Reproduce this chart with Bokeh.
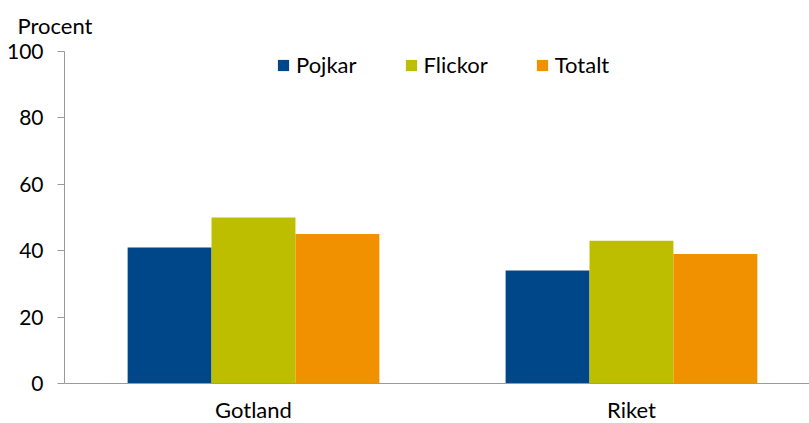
import numpy as np
from bokeh.plotting import figure
from bokeh.models import Range1d, Legend, LegendItem, Title, Span
from bokeh.core.properties import value
from bokeh.embed import file_html
from bokeh.resources import INLINE

categories = ["Gotland", "Riket"]
series_names = ["Pojkar", "Flickor", "Totalt"]
pojkar = [41, 34]
flickor = [50, 43]
totalt = [45, 39]
y_ticks = [0, 20, 40, 60, 80, 100]
colors = ["#00478A", "#BEBE00", "#F29100"]

FONT = "Lato"
AXIS_COLOR = "#9A9A9A"

p = figure(width=809, height=423, output_backend="svg", toolbar_location=None,
           x_range=Range1d(-0.5, 1.471), y_range=Range1d(-12.05, 100),
           x_axis_location=None,
           min_border_left=64, min_border_top=51, min_border_bottom=0,
           min_border_right=0, title=None)
p.outline_line_color = None
p.xgrid.visible = False
p.ygrid.visible = False
p.background_fill_color = "white"

bar_w = 0.222
offsets = [-bar_w, 0.0, bar_w]
xs = np.arange(len(categories))
renderers = []
for vals, off, col in zip([pojkar, flickor, totalt], offsets, colors):
    r = p.vbar(x=xs + off, top=vals, width=bar_w, bottom=0,
               fill_color=col, line_color=None)
    renderers.append(r)

# category axis line and labels
p.add_layout(Span(location=0, dimension="width", line_color=AXIS_COLOR,
                  line_width=1))
p.text(x=xs, y=[-7.8] * len(categories), text=categories,
       text_font=value(FONT), text_font_size="22px", text_color="black",
       text_align="center", text_baseline="middle")

# y axis
p.yaxis.ticker = y_ticks
p.yaxis.bounds = (0, 100)
p.yaxis.axis_line_color = AXIS_COLOR
p.yaxis.major_tick_line_color = AXIS_COLOR
p.yaxis.major_tick_out = 7
p.yaxis.major_tick_in = 0
p.yaxis.minor_tick_line_color = None
p.yaxis.major_label_standoff = 14
p.yaxis.major_label_text_font = FONT
p.yaxis.major_label_text_font_size = "21px"
p.yaxis.major_label_text_color = "black"

# "Procent" title
p.add_layout(Title(text="Procent", align="left", offset=-47, standoff=22,
                   vertical_align="top",
                   text_font=FONT, text_font_size="22px",
                   text_font_style="normal", text_color="black"), "above")

legend = Legend(items=[LegendItem(label=n, renderers=[r])
                       for n, r in zip(series_names, renderers)],
                orientation="horizontal", location=(212, 345),
                glyph_width=14, glyph_height=14, label_standoff=6,
                spacing=47, padding=0, margin=0,
                label_text_font=FONT, label_text_font_size="22px",
                label_text_color="black",
                border_line_color=None, background_fill_alpha=0)
p.add_layout(legend)

open("out.html", "w").write(file_html(p, INLINE))
